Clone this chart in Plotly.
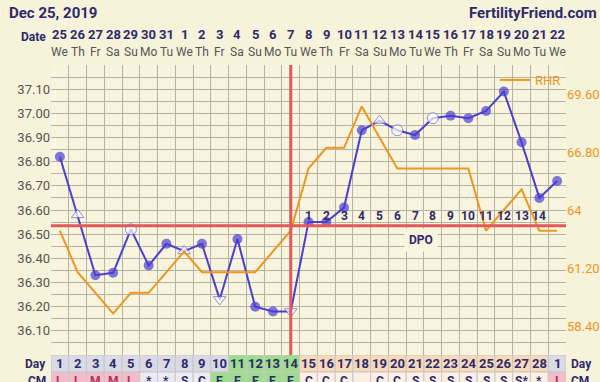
import plotly.graph_objects as go

# ---------------- data ----------------
dates = ["25", "26", "27", "28", "29", "30", "31", "1", "2", "3", "4", "5", "6", "7", "8",
         "9", "10", "11", "12", "13", "14", "15", "16", "17", "18", "19", "20", "21", "22"]
weekdays = ["We", "Th", "Fr", "Sa", "Su", "Mo", "Tu", "We", "Th", "Fr", "Sa", "Su", "Mo", "Tu", "We",
            "Th", "Fr", "Sa", "Su", "Mo", "Tu", "We", "Th", "Fr", "Sa", "Su", "Mo", "Tu", "We"]
cycle_days = [str(d) for d in range(1, 29)] + ["1"]
temps = [36.82, 36.58, 36.33, 36.34, 36.52, 36.37, 36.46, 36.43, 36.46, 36.23,
         36.48, 36.20, 36.18, 36.18, 36.55, 36.55, 36.61, 36.93, 36.97, 36.93,
         36.91, 36.98, 36.99, 36.98, 37.01, 37.09, 36.88, 36.65, 36.72]
temp_marks = ["filled", "up", "filled", "filled", "open", "filled", "filled", "up", "filled", "down",
              "filled", "filled", "filled", "down", "filled", "filled", "filled", "filled", "up", "open",
              "filled", "open", "filled", "filled", "filled", "filled", "filled", "filled", "filled"]
rhr = [63, 61, 60, 59, 60, 60, 61, 62, 61, 61, 61, 61, 62, 63, 66, 67, 67, 69, None, 66,
       66, 66, 66, 66, 63, 64, 65, 63, 63]
cm = ["L", "L", "M", "M", "L", "*", "*", "S", "C", "E", "E", "E", "E", "E", "C", "C", "C", "",
      "C", "C", "S", "S", "S", "S", "S", "S", "S*", "*", "I"]
dpo_labels = [str(i) for i in range(1, 15)]
coverline = 36.535
ovulation_day = 14
temp_ticks = [36.10, 36.20, 36.30, 36.40, 36.50, 36.60, 36.70, 36.80, 36.90, 37.00, 37.10]
rhr_ticks = [58.4, 61.2, 64, 66.8, 69.6]
rhr_ticktext = ["58.40", "61.20", "64", "66.80", "69.60"]

# ---------------- style ----------------
NAVY = "#2e2a6b"
BLUE = "#4b3fd0"
ORANGE = "#f0961e"
RED = "#e05a5a"
GRID = "#b4b2a4"
BG = "#f7f2da"
PLOTBG = "#f9f4dd"
FONT = "Roboto"

days = list(range(1, len(temps) + 1))
n = len(days)

sym_map = {"filled": "circle", "open": "circle", "up": "triangle-up", "down": "triangle-down"}
symbols = [sym_map[m] for m in temp_marks]
fills = [BLUE if m == "filled" else "white" for m in temp_marks]
sizes = [10 if m == "filled" else 11 for m in temp_marks]
lw = [0 if m == "filled" else 1 for m in temp_marks]

fig = go.Figure()

fig.add_trace(go.Scatter(
    x=days, y=rhr, mode="lines", name="RHR", yaxis="y2", connectgaps=True,
    line=dict(color=ORANGE, width=2), showlegend=True))

fig.add_trace(go.Scatter(
    x=days, y=temps, mode="lines+markers", name="BBT", showlegend=False,
    line=dict(color=BLUE, width=2),
    marker=dict(symbol=symbols, color=fills, size=sizes,
                line=dict(color="#6a60d8", width=lw))))

# dummy trace for bottom table axis
fig.add_trace(go.Scatter(x=[1], y=[0.5], yaxis="y3", mode="markers",
                         marker=dict(opacity=0), showlegend=False, hoverinfo="skip"))

shapes = []
shapes.append(dict(type="line", xref="x domain", yref="y", x0=0, x1=1, y0=coverline, y1=coverline,
                   line=dict(color=RED, width=3), layer="above"))
shapes.append(dict(type="line", xref="x", yref="y domain", x0=ovulation_day, x1=ovulation_day,
                   y0=0, y1=1, line=dict(color=RED, width=3), layer="above"))


def day_color(d):
    if d <= 10 or d == 29:
        return "#dadae6"
    if d <= 14:
        return "#9edc8e"
    return "#f8d9b8"


def cm_color(d, c):
    if c in ("L", "M", "I") and (d <= 5 or d == 29):
        return "#f2bccb"
    if 10 <= d <= 14:
        return "#9edc8e"
    if d <= 9:
        return "#ecebf2"
    return "#fbf0e2"


annotations = []
for i, d in enumerate(days):
    shapes.append(dict(type="rect", xref="x", yref="y3", x0=d - 0.5, x1=d + 0.5, y0=0, y1=1,
                       fillcolor=day_color(d), line=dict(color="#c8c8c8", width=1), layer="above"))
    shapes.append(dict(type="rect", xref="x", yref="y3", x0=d - 0.5, x1=d + 0.5, y0=1, y1=2,
                       fillcolor=cm_color(d, cm[i]), line=dict(color="#c8c8c8", width=1), layer="above"))
    annotations.append(dict(x=d, y=0.5, xref="x", yref="y3", text=f"<b>{cycle_days[i]}</b>",
                            showarrow=False, font=dict(family=FONT, size=13, color=NAVY)))
    if cm[i]:
        annotations.append(dict(x=d, y=1.5, xref="x", yref="y3", text=f"<b>{cm[i]}</b>",
                                showarrow=False,
                                font=dict(family=FONT, size=12, color="#b0345a" if cm[i] in "LMI" else NAVY)))
    annotations.append(dict(x=d, y=1, xref="x", yref="paper", yshift=31, yanchor="middle",
                            text=f"<b>{dates[i]}</b>",
                            showarrow=False, font=dict(family=FONT, size=13, color=NAVY)))
    annotations.append(dict(x=d, y=1, xref="x", yref="paper", yshift=13, yanchor="middle",
                            text=weekdays[i],
                            showarrow=False, font=dict(family=FONT, size=12, color="#555555")))

for k, lab in enumerate(dpo_labels):
    annotations.append(dict(x=ovulation_day + 1 + k, y=coverline, xref="x", yref="y", yshift=10,
                            text=f"<b>{lab}</b>", showarrow=False,
                            font=dict(family=FONT, size=12, color=NAVY)))
annotations.append(dict(x=21.35, y=coverline, xref="x", yref="y", yshift=-14, text="<b>DPO</b>",
                        showarrow=False, bgcolor=PLOTBG, borderpad=4,
                        font=dict(family=FONT, size=12, color=NAVY)))

annotations += [
    dict(x=0, y=1, xref="paper", yref="paper", xshift=-44, yshift=52, xanchor="left", yanchor="middle",
         text="<b>Dec 25, 2019</b>", showarrow=False, font=dict(family=FONT, size=15, color=NAVY)),
    dict(x=1, y=1, xref="paper", yref="paper", xshift=33, yshift=52, xanchor="right", yanchor="middle",
         text="<b>FertilityFriend.com</b>", showarrow=False, font=dict(family=FONT, size=15, color=NAVY)),
    dict(x=0, y=1, xref="paper", yref="paper", xshift=-3, yshift=28, xanchor="right", yanchor="middle",
         text="<b>Date</b>", showarrow=False, font=dict(family=FONT, size=12, color=NAVY)),
    dict(x=0, y=0.5, xref="paper", yref="y3", xshift=-3, xanchor="right", yanchor="middle",
         text="<b>Day</b>", showarrow=False, font=dict(family=FONT, size=12, color=NAVY)),
    dict(x=1, y=0.5, xref="paper", yref="y3", xshift=3, xanchor="left", yanchor="middle",
         text="<b>Day</b>", showarrow=False, font=dict(family=FONT, size=12, color=NAVY)),
    dict(x=0, y=1.5, xref="paper", yref="y3", xshift=-3, xanchor="right", yanchor="middle",
         text="<b>CM</b>", showarrow=False, font=dict(family=FONT, size=12, color=NAVY)),
    dict(x=1, y=1.5, xref="paper", yref="y3", xshift=3, xanchor="left", yanchor="middle",
         text="<b>CM</b>", showarrow=False, font=dict(family=FONT, size=12, color=NAVY)),
]

TOTAL_H = 382 - 65
main_bottom = 27 / TOTAL_H

fig.update_layout(
    width=600, height=382,
    margin=dict(l=51, r=34, t=65, b=0),
    paper_bgcolor=BG, plot_bgcolor=PLOTBG,
    font=dict(family=FONT, size=12, color="#555555"),
    xaxis=dict(range=[0.5, n + 0.5], tickvals=[d + 0.5 for d in range(0, n + 1)],
               showticklabels=False, showgrid=True, gridcolor=GRID, gridwidth=1,
               zeroline=False, showline=False, ticks="", fixedrange=True),
    yaxis=dict(domain=[main_bottom, 1], range=[36.0, 37.2], tickvals=temp_ticks,
               ticktext=[f"{t:.2f}" for t in temp_ticks], showgrid=True, gridcolor=GRID,
               minor=dict(tick0=36.0, dtick=0.05, showgrid=True, gridcolor=GRID, gridwidth=1),
               zeroline=False, ticks="", tickfont=dict(family=FONT, size=13, color="#555555")),
    yaxis2=dict(overlaying="y", side="right", range=[57, 71], tickvals=rhr_ticks,
                ticktext=rhr_ticktext, showgrid=False, zeroline=False, ticks="",
                tickfont=dict(family=FONT, size=13, color=ORANGE)),
    yaxis3=dict(domain=[0, main_bottom], range=[27 / 17, 0], showgrid=False, zeroline=False,
                showticklabels=False, ticks=""),
    showlegend=True,
    legend=dict(x=0.862, y=1.0, xanchor="left", yanchor="top", bgcolor="rgba(0,0,0,0)",
                font=dict(family=FONT, size=13, color=ORANGE), itemwidth=30,
                borderwidth=0, tracegroupgap=0),
    shapes=shapes,
    annotations=annotations,
)

fig.write_html("out.html", config={"displayModeBar": False},
               post_script="document.body.style.margin='0';document.body.style.overflow='hidden';")
